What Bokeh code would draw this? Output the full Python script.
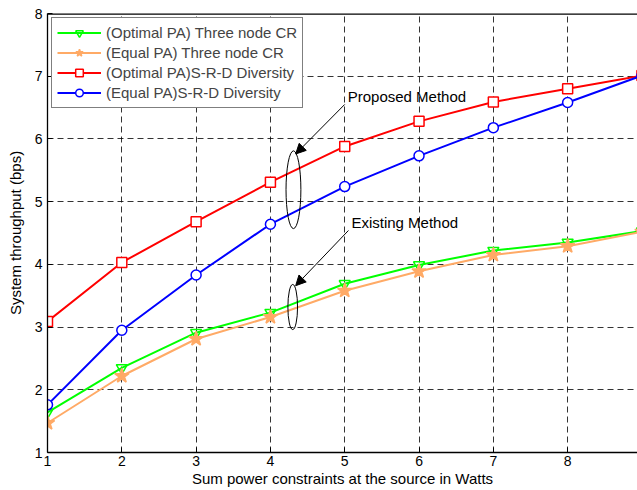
from bokeh.plotting import figure
from bokeh.models import Range1d, FixedTicker, Arrow, NormalHead, Label, Span
from bokeh.embed import file_html
from bokeh.resources import INLINE

# ---- data ----
power = [1, 2, 3, 4, 5, 6, 7, 8, 9]
opt_cr = [1.64, 2.35, 2.91, 3.23, 3.69, 3.99, 4.22, 4.35, 4.53]
eq_cr = [1.47, 2.22, 2.81, 3.16, 3.58, 3.89, 4.15, 4.29, 4.52]
opt_srd = [3.09, 4.03, 4.68, 5.31, 5.88, 6.28, 6.59, 6.80, 7.01]
eq_srd = [1.76, 2.95, 3.83, 4.64, 5.24, 5.73, 6.18, 6.58, 7.01]
x_ticks = [1, 2, 3, 4, 5, 6, 7, 8, 9]
y_ticks = [1, 2, 3, 4, 5, 6, 7, 8]
series_labels = ["(Optimal PA) Three node CR", "(Equal PA) Three node CR",
                 "(Optimal PA)S-R-D Diversity", "(Equal PA)S-R-D Diversity"]

FONT = "Liberation Sans"
FS = "15px"
TFS = "14px"

p = figure(width=637, height=490, x_range=Range1d(1, 8.94), y_range=Range1d(1, 8),
           output_backend="svg", toolbar_location=None,
           min_border_left=47, min_border_top=13, min_border_right=0, min_border_bottom=38)
p.outline_line_color = None
p.background_fill_color = "white"

# axes styling
for ax in (p.xaxis[0], p.yaxis[0]):
    ax.major_tick_in = 5
    ax.major_tick_out = 0
    ax.minor_tick_line_color = None
    ax.axis_line_color = "black"
    ax.axis_line_width = 1.3
    ax.major_tick_line_color = "black"
    ax.major_label_text_font = FONT
    ax.major_label_text_font_size = TFS
    ax.major_label_text_color = "black"
    ax.axis_label_text_font = FONT
    ax.axis_label_text_font_size = FS
    ax.axis_label_text_font_style = "normal"
    ax.axis_label_text_color = "black"
p.xaxis.ticker = FixedTicker(ticks=x_ticks)
p.yaxis.ticker = FixedTicker(ticks=y_ticks)
p.xaxis.major_label_standoff = 3
p.yaxis.major_label_standoff = 5
p.xaxis.axis_label_standoff = 1
p.yaxis.axis_label_standoff = 8
p.xaxis.axis_label = "Sum power constraints at the source in Watts"
p.yaxis.axis_label = "System throughput (bps)"

# top border of the axes box
p.add_layout(Span(location=8, dimension="width", line_color="black", line_width=2.5))

# grid
for g in (p.xgrid[0], p.ygrid[0]):
    g.grid_line_color = "black"
    g.grid_line_alpha = 0.8
    g.grid_line_dash = "6 4"
    g.grid_line_width = 1
p.xgrid.ticker = FixedTicker(ticks=x_ticks)
p.ygrid.ticker = FixedTicker(ticks=y_ticks)

# series
p.line(power, opt_cr, color="#00FF00", line_width=2, legend_label=series_labels[0])
p.scatter(power, opt_cr, marker="inverted_triangle", size=11, line_color="#00FF00",
          fill_color=None, line_width=1.5, legend_label=series_labels[0])

p.line(power, eq_cr, color="#FFAA66", line_width=2, legend_label=series_labels[1])
p.scatter(power, eq_cr, marker="star", size=15, line_color="#FFAA66",
          fill_color="#FFAA66", line_width=1.5, legend_label=series_labels[1])

p.line(power, opt_srd, color="#FF0000", line_width=2, legend_label=series_labels[2])
p.scatter(power, opt_srd, marker="square", size=10, line_color="#FF0000",
          fill_color="white", line_width=1.5, legend_label=series_labels[2])

p.line(power, eq_srd, color="#0000FF", line_width=2, legend_label=series_labels[3])
p.scatter(power, eq_srd, marker="circle", size=10, line_color="#0000FF",
          fill_color="white", line_width=1.5, legend_label=series_labels[3])

# annotations
p.ellipse(x=[4.31], y=[5.19], width=[0.2], height=[1.24], fill_color=None,
          line_color="black", line_width=1)
p.ellipse(x=[4.30], y=[3.32], width=[0.13], height=[0.72], fill_color=None,
          line_color="black", line_width=1)
p.add_layout(Arrow(end=NormalHead(size=10, fill_color="black", line_color="black"),
                   x_start=5.0, y_start=6.55, x_end=4.34, y_end=5.76,
                   line_color="black", line_width=1))
p.add_layout(Arrow(end=NormalHead(size=10, fill_color="black", line_color="black"),
                   x_start=5.05, y_start=4.54, x_end=4.34, y_end=3.66,
                   line_color="black", line_width=1))
p.add_layout(Label(x=5.04, y=6.68, text="Proposed Method", text_font=FONT,
                   text_font_size=FS, text_baseline="middle", text_color="black"))
p.add_layout(Label(x=5.09, y=4.67, text="Existing Method", text_font=FONT,
                   text_font_size=FS, text_baseline="middle", text_color="black"))

# legend
lg = p.legend[0]
lg.location = "top_left"
lg.margin = 4
lg.padding = 5
lg.spacing = 1
lg.glyph_width = 44
lg.glyph_height = 19
lg.label_height = 19
lg.label_standoff = 5
lg.label_text_font = FONT
lg.label_text_font_size = FS
lg.border_line_color = "black"
lg.border_line_width = 1
lg.background_fill_alpha = 1

open("out.html", "w").write(file_html(p, INLINE))
